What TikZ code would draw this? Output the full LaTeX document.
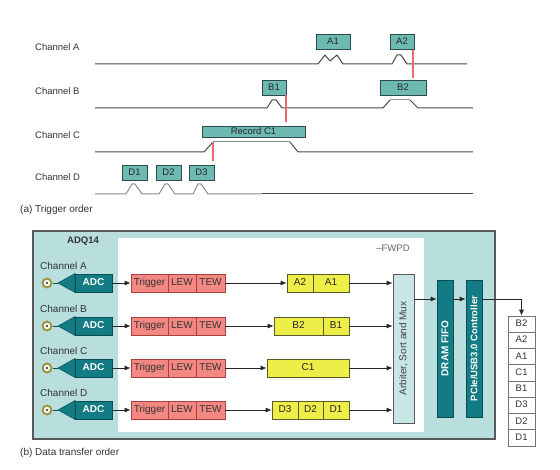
\documentclass[tikz,border=0pt]{standalone}
\usepackage{fontspec}
\setmainfont{Liberation Sans}
\usetikzlibrary{arrows.meta}
\definecolor{tealA}{HTML}{6CBAB2}
\definecolor{tealB}{HTML}{2E4B4B}
\definecolor{bgteal}{HTML}{B9DEDE}
\definecolor{dteal}{HTML}{137B84}
\definecolor{dtealB}{HTML}{0B4D52}
\definecolor{pinkF}{HTML}{F38883}
\definecolor{pinkB}{HTML}{A84040}
\definecolor{yelF}{HTML}{EEEE48}
\definecolor{yelB}{HTML}{5A5A2A}
\definecolor{arbF}{HTML}{C8E6E6}
\definecolor{gold}{HTML}{A09542}
\definecolor{redl}{HTML}{E86A6A}
\definecolor{txt}{HTML}{333333}
\definecolor{wave}{HTML}{484848}
\begin{document}
\begin{tikzpicture}[x=1pt,y=-1pt,
  fs/.style={font=\fontsize{#1}{#1}\selectfont},
  tx/.style={text height=7.1,text depth=1.9},
  lab/.style={anchor=west,inner sep=0,text=txt,fs=9.5},
  tbox/.style={draw=tealB,fill=tealA,line width=0.9pt,inner sep=0,minimum height=15,fs=9.5,tx,text=black!85},
  wv/.style={draw=wave,line width=1pt,line join=round},
  rl/.style={draw=redl,line width=1.2pt},
  adcbox/.style={fill=dteal,draw=dtealB,line width=0.5pt,inner sep=0,minimum width=37,minimum height=18,tx,text=white,font=\bfseries\fontsize{10}{10}\selectfont},
  pbox/.style={fill=pinkF,draw=pinkB,line width=0.7pt,inner sep=0,minimum height=18,fs=10,tx,text=black!80},
  ybox/.style={fill=yelF,draw=yelB,line width=0.7pt,inner sep=0,minimum height=18,fs=10,tx,text=black!85},
  vbar/.style={fill=dteal,draw=dtealB,line width=0.6pt,inner sep=0,minimum width=16,minimum height=137},
  lbox/.style={fill=white,draw=black!55,line width=0.6pt,inner sep=0,minimum width=27,minimum height=16.25,fs=9.5,tx,text=txt},
  arr/.style={-{Latex[length=6pt,width=5pt]},line width=0.8pt,draw=black!85}]
\useasboundingbox (0,0) rectangle (560,470);
\fill[white] (0,0) rectangle (560,470);

% ---------- (a) Trigger order ----------
\node[lab] (lA) at (35,47) {Channel A};
\node[lab] (lB) at (35,91) {Channel B};
\node[lab] (lC) at (35,135) {Channel C};
\node[lab] (lD) at (35,177) {Channel D};

\draw[wv] (95,64) -- (318,64) -- (325,55) -- (330,61) -- (337,55) -- (343,64)
  -- (392,64) -- (397,55) -- (401,55) -- (407,64) -- (467,64);
\draw[wv] (95,108) -- (267,108) -- (272,100) -- (276,100) -- (282,108) -- (383,108);
\draw[wv] (383,108) -- (390,100);
\draw[draw=black!40,line width=1pt] (390,100) -- (410,100);
\draw[wv] (410,100) -- (418,108) -- (473,108);
\draw[wv] (95,152) -- (204,152) -- (213,142);
\draw[draw=black!45,line width=1pt] (213,142) -- (290,142);
\draw[wv] (290,142) -- (298,152) -- (473,152);
\draw[draw=black!45,line width=1pt,line join=round] (95,194) -- (126,194) -- (132,184) -- (135,184) -- (142,194)
  -- (159,194) -- (165,184) -- (168,184) -- (175,194)
  -- (193,194) -- (198,184) -- (201,184) -- (208,194) -- (262,194);
\draw[wv] (262,194) -- (473,194);

\node[tbox,minimum width=34] (a1) at (333,41.5) {A1};
\node[tbox,minimum width=24] (a2) at (402,41.5) {A2};
\node[tbox,minimum width=24] (b1) at (274,87.5) {B1};
\node[tbox,minimum width=46] (b2) at (403,87.5) {B2};
\node[tbox,minimum width=103,minimum height=11] (c1) at (253.5,131.5) {Record C1};
\node[tbox,minimum width=25] (d1) at (134.5,172.5) {D1};
\node[tbox,minimum width=25] (d2) at (168.5,172.5) {D2};
\node[tbox,minimum width=25] (d3) at (201.5,172.5) {D3};

\draw[rl] (413,50) -- (413,78);
\draw[rl] (286,95) -- (286,122);
\draw[rl] (213,142) -- (213,161);

\node[anchor=west,inner sep=0,text=txt,fs=10] (capa) at (20,210) {(a) Trigger order};

% ---------- (b) Data transfer order ----------
\draw[fill=bgteal,draw=black!65,line width=1.2pt] (33,231) rectangle (495,439);
\fill[white] (118,238) rectangle (424,432);
\node[inner sep=0,text=txt,font=\bfseries\fontsize{9.5}{9.5}\selectfont] (adq) at (83,241) {ADQ14};
\node[inner sep=0,text=black!60,fs=9.5] (fwpd) at (393,248) {–FWPD};

\node[anchor=west,inner sep=0,text=txt,fs=10] (cA) at (40,266) {Channel A};
\node[anchor=west,inner sep=0,text=txt,fs=10] (cB) at (40,309) {Channel B};
\node[anchor=west,inner sep=0,text=txt,fs=10] (cC) at (40,351) {Channel C};
\node[anchor=west,inner sep=0,text=txt,fs=10] (cD) at (40,393) {Channel D};

\foreach \r/\y in {A/283,B/326,C/368,D/410}{
  \node[circle,fill=gold,minimum size=11,inner sep=0] (j\r) at (47,\y) {};
  \fill[white] (47,\y) circle (3.2);
  \fill[black!70] (47,\y) circle (1.4);
  \coordinate (tip\r) at (58,\y);
  \draw[fill=dteal,draw=dtealB,line width=0.5pt] (tip\r) -- (75,\y-9.5) -- (75,\y+9.5) -- cycle;
  \draw[dtealB,line width=0.8pt] (j\r) -- (tip\r);
  \node[adcbox] (adc\r) at (93.5,\y) {ADC};
  \node[pbox,minimum width=37] (trig\r) at (149.5,\y) {Trigger};
  \node[pbox,minimum width=28] (lew\r) at (182,\y) {LEW};
  \node[pbox,minimum width=29] (tew\r) at (210.5,\y) {TEW};
  \draw[arr] (adc\r) -- (trig\r);
}

\node[ybox,minimum width=26] (yA2) at (300,283) {A2};
\node[ybox,minimum width=36] (yA1) at (331,283) {A1};
\node[ybox,minimum width=49] (yB2) at (298.5,326) {B2};
\node[ybox,minimum width=26] (yB1) at (336,326) {B1};
\node[ybox,minimum width=82] (yC1) at (308,368) {C1};
\node[ybox,minimum width=26] (yD3) at (285,410) {D3};
\node[ybox,minimum width=25] (yD2) at (310.5,410) {D2};
\node[ybox,minimum width=26] (yD1) at (336,410) {D1};

\draw[arr] (tewA) -- (yA2);
\draw[arr] (tewB) -- (yB2);
\draw[arr] (tewC) -- (yC1);
\draw[arr] (tewD) -- (yD3);

\node[fill=arbF,draw=black!65,line width=0.8pt,inner sep=0,minimum width=21,minimum height=149,
  label={[rotate=90,fs=10,text=black!75]center:{Arbiter, Sort and Mux}}] (arb) at (403.5,348.5) {};

\draw[arr] (yA1.east) -- (yA1.east -| arb.west);
\draw[arr] (yB1.east) -- (yB1.east -| arb.west);
\draw[arr] (yC1.east) -- (yC1.east -| arb.west);
\draw[arr] (yD1.east) -- (yD1.east -| arb.west);

\node[vbar,label={[rotate=90,text=white,font=\bfseries\fontsize{10}{10}\selectfont]center:DRAM FIFO}] (dram) at (445,348.5) {};
\node[vbar,label={[rotate=90,text=white,font=\bfseries\fontsize{9.5}{9.5}\selectfont]center:PCIe/USB3.0 Controller}] (pcie) at (474,348.5) {};

\coordinate (bus) at (0,299);
\draw[arr] (arb.east |- bus) -- (dram.west |- bus);
\draw[arr] (dram.east |- bus) -- (pcie.west |- bus);

\foreach \i/\t in {1/B2,2/A2,3/A1,4/C1,5/B1,6/D3,7/D2,8/D1}{
  \node[lbox] (l\i) at (521.5,{316+16.25*(\i-0.5)}) {\t};
}
\draw[arr] (pcie.east |- bus) -| (l1.north);

\node[anchor=west,inner sep=0,text=txt,fs=10] (capb) at (20,453) {(b) Data transfer order};
\end{tikzpicture}
\end{document}
